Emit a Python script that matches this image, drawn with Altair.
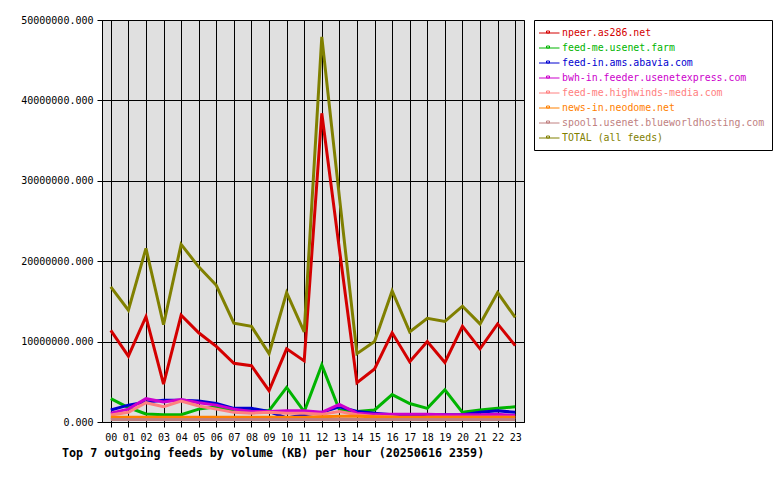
import altair as alt
import pandas as pd

hours = ["00", "01", "02", "03", "04", "05", "06", "07", "08", "09", "10", "11",
         "12", "13", "14", "15", "16", "17", "18", "19", "20", "21", "22", "23"]

feeds = ["npeer.as286.net", "feed-me.usenet.farm", "feed-in.ams.abavia.com",
         "bwh-in.feeder.usenetexpress.com", "feed-me.highwinds-media.com",
         "news-in.neodome.net", "spool1.usenet.blueworldhosting.com", "TOTAL (all feeds)"]

colors = ["#d40000", "#00b400", "#0000d0", "#cc00cc", "#ff8080", "#ff8000", "#c08080", "#808000"]

# values in millions of KB
npeer = [11.4, 8.2, 13.1, 4.7, 13.3, 11.1, 9.4, 7.3, 7.0, 3.9, 9.1, 7.6,
         38.4, 21.5, 4.9, 6.6, 11.1, 7.5, 10.0, 7.4, 11.9, 9.1, 12.2, 9.5]
farm = [2.9, 1.8, 1.0, 0.9, 0.9, 1.6, 1.9, 1.4, 1.4, 1.4, 4.3, 1.3,
        7.1, 1.5, 1.3, 1.5, 3.4, 2.3, 1.7, 4.0, 1.2, 1.5, 1.7, 1.9]
abavia = [1.5, 2.1, 2.5, 2.7, 2.7, 2.6, 2.3, 1.7, 1.7, 1.3, 0.5, 0.9,
          1.2, 1.9, 1.3, 1.1, 0.9, 0.9, 0.9, 0.9, 0.9, 1.2, 1.4, 1.2]
bwh = [1.1, 1.6, 2.9, 2.5, 2.8, 2.4, 2.1, 1.6, 1.3, 1.3, 1.4, 1.4,
       1.2, 2.2, 1.1, 0.95, 0.95, 0.95, 0.95, 0.9, 0.9, 0.9, 0.95, 0.8]
highwinds = [0.87, 1.2, 2.4, 1.9, 2.6, 2.0, 1.6, 1.2, 1.1, 1.2, 1.1, 1.1,
             0.95, 1.3, 0.9, 0.7, 0.65, 0.45, 0.6, 0.6, 0.6, 0.6, 0.6, 0.6]
neodome = [0.58, 0.58, 0.58, 0.58, 0.58, 0.58, 0.58, 0.58, 0.58, 0.6, 0.6, 0.6,
           0.65, 0.7, 0.7, 0.65, 0.6, 0.6, 0.6, 0.58, 0.58, 0.58, 0.58, 0.58]
spool1 = [0.3, 0.3, 0.3, 0.3, 0.3, 0.3, 0.3, 0.3, 0.3, 0.3, 0.3, 0.3,
          0.3, 0.35, 0.3, 0.3, 0.3, 0.3, 0.3, 0.3, 0.3, 0.3, 0.3, 0.3]
total = [16.8, 13.9, 21.6, 12.1, 22.1, 19.3, 17.0, 12.3, 11.9, 8.5, 16.1, 11.2,
         47.9, 28.0, 8.5, 10.0, 16.3, 11.2, 12.9, 12.5, 14.4, 12.2, 16.1, 13.0]

y_ticks = [0, 10000000, 20000000, 30000000, 40000000, 50000000]

series = [npeer, farm, abavia, bwh, highwinds, neodome, spool1, total]
rows = []
for k, (name, vals) in enumerate(zip(feeds, series)):
    for h, v in zip(hours, vals):
        rows.append({"hour": h, "feed": name, "value": v * 1e6, "k": k})
df = pd.DataFrame(rows)

MONO = "DejaVu Sans Mono"

chart = alt.Chart(df).mark_line(strokeWidth=3).encode(
    x=alt.X("hour:O", sort=hours,
            scale=alt.Scale(type="point", padding=0.5),
            axis=alt.Axis(title=None, labelAngle=0, tickSize=5, labelPadding=5,
                          grid=True)),
    y=alt.Y("value:Q",
            scale=alt.Scale(domain=[0, 50000000], nice=False, zero=True),
            axis=alt.Axis(title=None, values=y_ticks, format=".3f", tickSize=5,
                          labelPadding=4, grid=True)),
    color=alt.Color("feed:N",
                    scale=alt.Scale(domain=feeds, range=colors),
                    legend=alt.Legend(
                        title=None, orient="none", legendX=432, legendY=0,
                        padding=7, strokeColor="black", fillColor="white",
                        cornerRadius=0,
                        symbolType="M-1.5,0.1H2.6M0,-0.3H0.6V0.1H0Z",
                        symbolSize=100, symbolStrokeWidth=1,
                        labelFont=MONO, labelFontSize=9.9, labelLimit=400,
                        labelOffset=10, rowPadding=4,
                        labelColor=alt.ExprRef(expr="scale('color', datum.value)"),
                    )),
    order=alt.Order("k:Q"),
).properties(
    width=422,
    height=402,
    background="white",
    autosize=alt.AutoSizeParams(type="none"),
    padding={"left": 102, "top": 20, "right": 256, "bottom": 58},
    title=alt.TitleParams(
        "Top 7 outgoing feeds by volume (KB) per hour (20250616 2359)",
        orient="bottom", anchor="start", frame="group", dx=-40, offset=6,
        font=MONO, fontSize=11.7, fontWeight="bold", color="black",
    ),
).configure_view(
    fill="#e0e0e0", stroke="black", strokeWidth=1
).configure_axis(
    domainColor="black", tickColor="black", gridColor="black", gridOpacity=1,
    gridWidth=1, labelFont=MONO, labelFontSize=10, labelColor="black",
    domainWidth=1, tickWidth=1
)

chart.save("out.html", embed_options={"renderer": "svg", "actions": False})
